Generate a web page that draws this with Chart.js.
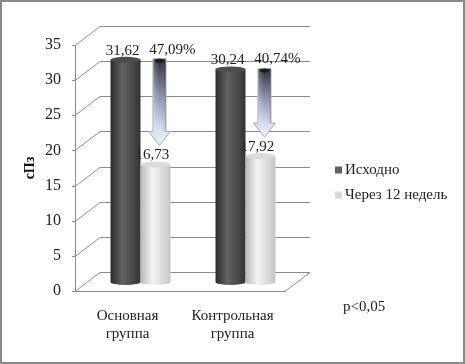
<!DOCTYPE html>
<html>
<head>
<meta charset="utf-8">
<script src="https://cdn.jsdelivr.net/npm/chart.js@4"></script>
<style>
  html,body{margin:0;padding:0;background:#fff;}
  #wrap{width:465px;height:364px;position:relative;}
</style>
</head>
<body>
<div id="wrap"><canvas id="c" width="465" height="364"></canvas></div>
<script>
/* ---------- data ---------- */
const groups     = [["Основная","группа"],["Контрольная","группа"]];
const seriesName = ["Исходно","Через 12 недель"];
const baseVals   = [31.62, 30.24];
const afterVals  = [16.73, 17.92];
const valLabels  = [["31,62","30,24"],["16,73","17,92"]];
const changePct  = ["47,09%","40,74%"];
const yTicks     = [0,5,10,15,20,25,30,35];
const pNote      = "p<0,05";

const FONT = "Liberation Serif";
const barCols = [
  {l:"#2b2b2b", m:"#626262", r:"#333333", top:"#4d4d4d", key:"#606060"},
  {l:"#b8b8b8", m:"#f4f4f4", r:"#c6c6c6", top:"#dcdcdc", key:"#d9d9d9"}
];
const depth = {dx:25, dy:-19};   // back wall offset
const mid   = {dx:13, dy:-9};    // where the cylinders stand

/* ---------- 3D frame + cylinders + arrows ---------- */
const fake3d = {
  id:"fake3d",
  beforeDatasetsDraw(chart){
    const {ctx, chartArea:a, scales:{y}} = chart;
    ctx.save();
    ctx.strokeStyle = "#8c8c8c"; ctx.lineWidth = 1;
    yTicks.forEach(v=>{
      const py = Math.round(y.getPixelForValue(v))+0.5;
      ctx.beginPath();
      ctx.moveTo(a.left-3, py);
      ctx.lineTo(a.left, py);
      ctx.lineTo(a.left+depth.dx, py+depth.dy);
      ctx.lineTo(a.right+depth.dx, py+depth.dy);
      ctx.stroke();
    });
    // front left edge + floor
    const y0 = Math.round(y.getPixelForValue(0))+0.5;
    const yT = Math.round(y.getPixelForValue(yTicks[yTicks.length-1]))+0.5;
    ctx.beginPath();
    ctx.moveTo(a.left+0.5, yT); ctx.lineTo(a.left+0.5, y0);
    ctx.lineTo(a.right, y0);
    ctx.lineTo(a.right+depth.dx, y0+depth.dy);
    ctx.stroke();
    ctx.restore();
  },
  afterDatasetsDraw(chart){
    const {ctx, scales:{y}} = chart;
    ctx.save();
    const bars = [];
    chart.data.datasets.forEach((ds,di)=>{
      chart.getDatasetMeta(di).data.forEach((el,i)=>{
        const w = el.width, x0 = el.x - w/2 + mid.dx;
        const top = el.y + mid.dy, bot = el.base + mid.dy;
        const rx = w/2, ry = 3, cx = x0+rx;
        const c = barCols[di];
        const g = ctx.createLinearGradient(x0,0,x0+w,0);
        g.addColorStop(0,c.l); g.addColorStop(0.4,c.m); g.addColorStop(1,c.r);
        ctx.fillStyle = g;
        ctx.beginPath();
        ctx.moveTo(x0, top);
        ctx.lineTo(x0, bot);
        ctx.ellipse(cx, bot, rx, ry, 0, Math.PI, 0, true);
        ctx.lineTo(x0+w, top);
        ctx.closePath();
        ctx.fill();
        ctx.fillStyle = c.top;
        ctx.beginPath(); ctx.ellipse(cx, top, rx, ry, 0, 0, Math.PI*2); ctx.fill();
        bars.push({di,i,cx,top});
      });
    });
    // arrows from start value down to the 12-week value
    const meta1 = chart.getDatasetMeta(1).data;
    baseVals.forEach((v,i)=>{
      const ax = meta1[i].x + mid.dx + 4;
      const yTop = y.getPixelForValue(v) + mid.dy - 1;
      const yTip = y.getPixelForValue(afterVals[i]) + mid.dy - 19;
      const sw = 13, hw = 22, hl = 14;
      const g = ctx.createLinearGradient(0,yTop,0,yTip);
      g.addColorStop(0,"#2a2d38"); g.addColorStop(0.45,"#8e98b4"); g.addColorStop(0.8,"#d4ddee"); g.addColorStop(1,"#eef2fa");
      ctx.fillStyle = g; ctx.strokeStyle = "#a7aab3"; ctx.lineWidth = 1;
      ctx.beginPath();
      ctx.moveTo(ax-sw/2, yTop);
      ctx.lineTo(ax+sw/2, yTop);
      ctx.lineTo(ax+sw/2, yTip-hl);
      ctx.lineTo(ax+hw/2, yTip-hl);
      ctx.lineTo(ax, yTip);
      ctx.lineTo(ax-hw/2, yTip-hl);
      ctx.lineTo(ax-sw/2, yTip-hl);
      ctx.closePath();
      ctx.fill(); ctx.stroke();
      const hg = ctx.createLinearGradient(ax-sw/2,0,ax+sw/2,0);
      hg.addColorStop(0,"rgba(255,255,255,0.25)"); hg.addColorStop(0.5,"rgba(255,255,255,0)"); hg.addColorStop(1,"rgba(0,0,0,0.12)");
      ctx.fillStyle = hg;
      ctx.fillRect(ax-sw/2, yTop, sw, yTip-hl-yTop);
      ctx.fillStyle = "#1c1e26";
      ctx.beginPath(); ctx.ellipse(ax, yTop+2, sw/2-2, 2, 0, 0, Math.PI*2); ctx.fill();
      ctx.fillStyle = "#222";
      ctx.font = "15px "+FONT; ctx.textAlign = "center"; ctx.textBaseline = "middle";
      ctx.fillText(changePct[i], ax+13, yTop-9);
    });
    // value labels
    ctx.fillStyle = "#222";
    ctx.font = "15px "+FONT; ctx.textAlign = "center"; ctx.textBaseline = "middle";
    bars.forEach(b=>ctx.fillText(valLabels[b.di][b.i], b.cx-3, b.top-9));
    ctx.restore();
  },
  afterDraw(chart){
    const {ctx} = chart;
    ctx.save();
    // axis title
    ctx.font = "bold 14px "+FONT; ctx.fillStyle = "#111";
    ctx.translate(30,168); ctx.rotate(-Math.PI/2);
    ctx.textAlign = "center"; ctx.textBaseline = "middle";
    ctx.fillText("сПз",0,0);
    ctx.restore();
    ctx.save();
    // legend
    ctx.font = "15px "+FONT; ctx.textBaseline = "middle"; ctx.textAlign = "left";
    seriesName.forEach((s,i)=>{
      const ly = 170 + i*25;
      ctx.fillStyle = barCols[i].key;
      ctx.fillRect(335, ly-3.5, 7, 7);
      ctx.fillStyle = "#222";
      ctx.fillText(s, 345, ly);
    });
    ctx.fillText(pNote, 343, 307);
    // outer frame
    ctx.strokeStyle = "#8a8a8a"; ctx.lineWidth = 2;
    ctx.strokeRect(1,1,463,362);
    ctx.restore();
  }
};

new Chart(document.getElementById("c"),{
  type:"bar",
  data:{
    labels:groups,
    datasets:[
      {label:seriesName[0], data:baseVals,  backgroundColor:"rgba(0,0,0,0)"},
      {label:seriesName[1], data:afterVals, backgroundColor:"rgba(0,0,0,0)"}
    ]
  },
  options:{
    responsive:false, animation:false,
    layout:{padding:{left:0, top:45, right:180, bottom:0}},
    categoryPercentage:0.571, barPercentage:1,
    plugins:{legend:{display:false}, tooltip:{enabled:false}},
    scales:{
      x:{
        grid:{display:false, drawTicks:false}, border:{display:false},
        ticks:{padding:16, color:"#222", font:{family:FONT, size:15}},
        afterFit(s){ s.height = 73; }
      },
      y:{
        min:0, max:35,
        grid:{display:false, drawTicks:false}, border:{display:false},
        ticks:{stepSize:5, padding:14, color:"#222", font:{family:FONT, size:16}},
        afterFit(s){ s.width = 75; }
      }
    }
  },
  plugins:[fake3d]
});
</script>
</body>
</html>
